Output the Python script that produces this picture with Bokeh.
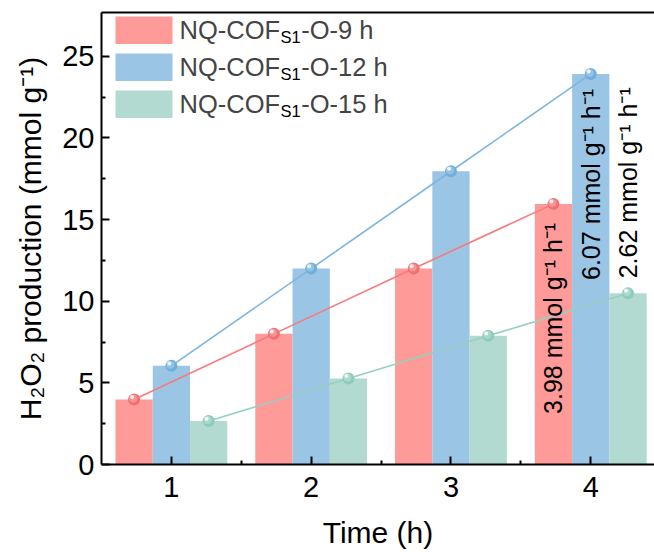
import math
from bokeh.plotting import figure
from bokeh.models import Range1d, LinearAxis, FixedTicker, Label, BoxAnnotation
from bokeh.embed import file_html
from bokeh.resources import INLINE

# ---------------- data ----------------
times = [1, 2, 3, 4]
x_ticks = [1, 2, 3, 4]
x_minor = [1.5, 2.5, 3.5]
y_ticks = [0, 5, 10, 15, 20, 25]
y_minor = [2.5, 7.5, 12.5, 17.5, 22.5]
h9 = [3.98, 8.0, 12.0, 15.96]
h12 = [6.04, 12.0, 17.96, 23.92]
h15 = [2.66, 5.27, 7.88, 10.49]
legend_main = ["NQ-COF", "NQ-COF", "NQ-COF"]
legend_sub = ["S1", "S1", "S1"]
legend_tail = ["-O-9 h", "-O-12 h", "-O-15 h"]
rate_labels = ["3.98 mmol g\u207b\u00b9 h\u207b\u00b9",
               "6.07 mmol g\u207b\u00b9 h\u207b\u00b9",
               "2.62 mmol g\u207b\u00b9 h\u207b\u00b9"]
rate_label_y = [3.1, 11.3, 11.4]   # where each rotated label starts

# ---------------- style ----------------
FONT = "Liberation Sans"
bar_colors = ["#FE9A98", "#9AC5E4", "#B2DAD1"]
line_colors = ["#F77B7B", "#7DB6E0", "#96D0C2"]
marker_colors = ["#F27070", "#6FAEDD", "#8DCBBB"]

W, H = 654, 552
FL, FR, FT, FB = 101, 654, 12, 464
XR = (0.5, 4.456)
YR = (0, 27.68)
SX = (FR - FL) / (XR[1] - XR[0])
SY = (FB - FT) / (YR[1] - YR[0])


def px_x(px):
    return XR[0] + (px - FL) / SX


def px_y(py):
    return YR[0] + (FB - py) / SY


p = figure(width=W, height=H, x_range=Range1d(*XR), y_range=Range1d(*YR),
           output_backend="svg", toolbar_location=None,
           min_border_left=FL, min_border_right=W - FR,
           min_border_top=FT, min_border_bottom=H - FB)
p.outline_line_color = None
p.xgrid.visible = False
p.ygrid.visible = False
p.background_fill_color = "white"
p.border_fill_color = "white"

bw = 0.8 / 3
offsets = [-bw, 0.0, bw]
series = [h9, h12, h15]

for vals, off, c in zip(series, offsets, bar_colors):
    p.vbar(x=[t + off for t in times], top=vals, width=bw,
           fill_color=c, line_color=None)

for vals, off, lc, mc in zip(series, offsets, line_colors, marker_colors):
    xs = [t + off for t in times]
    p.line(x=xs, y=vals, line_color=lc, line_width=1.6)
    p.scatter(x=xs, y=vals, size=12, fill_color=mc, line_color=None)
    p.scatter(x=[x - 1 / SX for x in xs], y=[v + 1 / SY for v in vals], size=8,
              fill_color="white", fill_alpha=0.25, line_color=None)
    p.scatter(x=[x - 2 / SX for x in xs], y=[v + 2.4 / SY for v in vals], size=4,
              fill_color="white", fill_alpha=0.85, line_color=None)

# rotated rate labels
for i, off in enumerate(offsets):
    p.add_layout(Label(x=times[-1] + off, y=rate_label_y[i], text=rate_labels[i],
                       angle=90, angle_units="deg", text_align="left",
                       text_baseline="middle", text_font=FONT,
                       text_font_size="25px", text_color="black"))

# legend (manual, for the subscript)
CW = {"N": .722, "Q": .778, "-": .333, "C": .722, "O": .778, "F": .611,
      "S": .667, "1": .556, "2": .556, "5": .556, "9": .556, " ": .278, "h": .556}


def tw(s, size):
    return sum(CW.get(ch, .556) for ch in s) * size


LF, LS = 25.5, 16.5
for i in range(3):
    top = 16 + 37 * i
    p.add_layout(BoxAnnotation(left=px_x(115), right=px_x(172),
                               top=px_y(top), bottom=px_y(top + 27.5),
                               fill_color=bar_colors[i], fill_alpha=1,
                               line_color=None))
    base = top + 13
    x0 = 179
    p.add_layout(Label(x=px_x(x0), y=px_y(base), text=legend_main[i],
                       text_font=FONT, text_font_size=f"{LF}px",
                       text_baseline="alphabetic", text_align="left"))
    x1 = x0 + tw(legend_main[i], LF) + 0.5
    p.add_layout(Label(x=px_x(x1), y=px_y(base + 7.5), text=legend_sub[i],
                       text_font=FONT, text_font_size=f"{LS}px",
                       text_baseline="alphabetic", text_align="left",
                       text_color="black"))
    x2 = x1 + tw(legend_sub[i], LS) + 0.5
    p.add_layout(Label(x=px_x(x2), y=px_y(base), text=legend_tail[i],
                       text_font=FONT, text_font_size=f"{LF}px",
                       text_baseline="alphabetic", text_align="left"))

# axes
p.xaxis.ticker = FixedTicker(ticks=x_ticks, minor_ticks=x_minor)
p.yaxis.ticker = FixedTicker(ticks=y_ticks, minor_ticks=y_minor)
p.xaxis.axis_label = "Time (h)"
p.yaxis.axis_label = "H\u2082O\u2082 production (mmol g\u207b\u00b9)"

for ax in [p.xaxis[0], p.yaxis[0]]:
    ax.axis_line_width = 2
    ax.axis_line_color = "black"
    ax.major_tick_in = 8
    ax.major_tick_out = 0
    ax.minor_tick_in = 4
    ax.minor_tick_out = 0
    ax.major_tick_line_width = 2
    ax.minor_tick_line_width = 2
    ax.major_tick_line_color = "black"
    ax.minor_tick_line_color = "black"
    ax.major_label_text_font = FONT
    ax.major_label_text_font_size = "29px"
    ax.major_label_text_color = "black"
    ax.axis_label_text_font = FONT
    ax.axis_label_text_font_size = "30px"
    ax.axis_label_text_font_style = "normal"
    ax.axis_label_text_color = "black"

p.xaxis.major_label_standoff = 12
p.xaxis.axis_label_standoff = 16
p.yaxis.major_label_standoff = 7
p.yaxis.axis_label_standoff = 12

top_axis = LinearAxis(ticker=FixedTicker(ticks=[]), axis_line_width=2,
                      axis_line_color="black", major_tick_line_color=None,
                      minor_tick_line_color=None, major_label_text_font_size="0px",
                      major_label_standoff=0)
p.add_layout(top_axis, "above")

open("out.html", "w").write(file_html(p, INLINE))
